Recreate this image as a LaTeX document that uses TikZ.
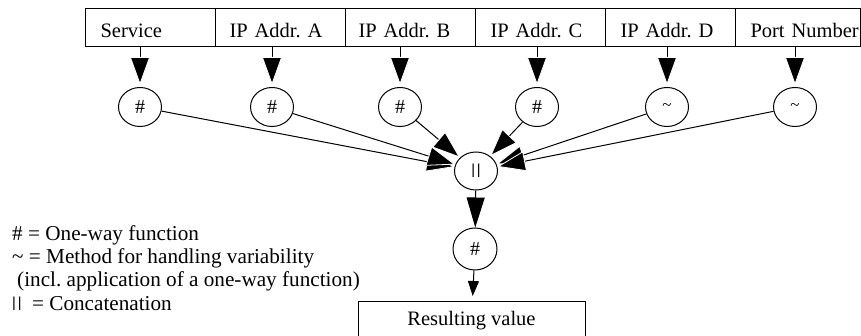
\documentclass[tikz,border=0pt]{standalone}
\usepackage{fontspec}
\setmainfont{Liberation Serif}
\newfontfamily\barfont{Liberation Sans}
\usetikzlibrary{shapes.geometric,arrows.meta}
\frenchspacing
\newcommand\dblbar{{\barfont\fontsize{14.5}{14.5}\selectfont\raisebox{2.8pt}{|\kern1.8pt|}}}
\tikzset{
  cell/.style={draw, line width=1pt, minimum height=38pt, inner xsep=0pt, inner ysep=0pt,
    text width=#1, align=left, text height=20pt, text depth=0pt, anchor=north west,
    font=\fontsize{20.5}{24}\selectfont},
  fn/.style={draw, line width=1pt, ellipse, minimum width=43pt, minimum height=39pt, inner sep=0pt,
    font=\fontsize{20}{22}\selectfont},
  bigarrow/.style={line width=1pt, -{Triangle[length=28pt,width=20pt,fill=black,color=white,line width=0.8pt]}},
  midarrow/.style={line width=1pt, -{Triangle[length=30pt,width=18pt]}},
  smallarrow/.style={line width=1pt, -{Triangle[length=15pt,width=11pt]}},
  resbox/.style={draw, line width=1pt, minimum width=227pt, minimum height=38pt, anchor=north,
    font=\fontsize{20.5}{24}\selectfont},
  legend/.style={align=left, inner sep=0pt, anchor=north west, font=\fontsize{21.2}{23.3}\selectfont}
}
\begin{document}
\begin{tikzpicture}[x=1pt,y=-1pt]
\useasboundingbox (0,0) rectangle (861,336);
% top row of fields
\node[cell=130pt] (c1) at (85,8) {\hspace*{15pt}Service};
\node[cell=130pt] (c2) at (215,8) {\hspace*{14pt}IP Addr. A};
\node[cell=130pt] (c3) at (345,8) {\hspace*{13pt}IP Addr. B};
\node[cell=130pt] (c4) at (475,8) {\hspace*{15pt}IP Addr. C};
\node[cell=130pt] (c5) at (605,8) {\hspace*{15pt}IP Addr. D};
\node[cell=125pt] (c6) at (735,8) {\hspace*{15pt}Port Number};
% function nodes
\node[fn] (s1) at (140,107) {\#};
\node[fn] (s2) at (272,107) {\#};
\node[fn] (s3) at (400,107) {\#};
\node[fn] (s4) at (537,107) {\#};
\node[fn, font=\fontsize{17}{20}\selectfont] (s5) at (667,107) {\textasciitilde};
\node[fn, font=\fontsize{17}{20}\selectfont] (s6) at (795,107) {\textasciitilde};
\node[fn, minimum height=38pt] (cat) at (476,171) {\dblbar};
\node[fn, minimum width=44pt, minimum height=42pt] (h) at (475,249) {\#};
\node[resbox] (res) at (471.5,301) {Resulting value};
% arrows from fields
\foreach \i in {1,...,6}{
  \draw[bigarrow, shorten >=2pt] (s\i |- c\i.south) -- (s\i);
}
% converging arrows
\foreach \i in {1,...,6}{
  \draw[bigarrow] (s\i) -- (cat);
}
\draw[midarrow] (cat) -- (h);
\draw[smallarrow, shorten >=5pt] (h) -- (res);
% legend
\node[legend] (leg) at (12,225) {\# = One-way function\\
\textasciitilde{} = Method for handling variability\\
\hspace*{5pt}(incl. application of a one-way function)\\
\dblbar\ \ = Concatenation};
\end{tikzpicture}
\end{document}
